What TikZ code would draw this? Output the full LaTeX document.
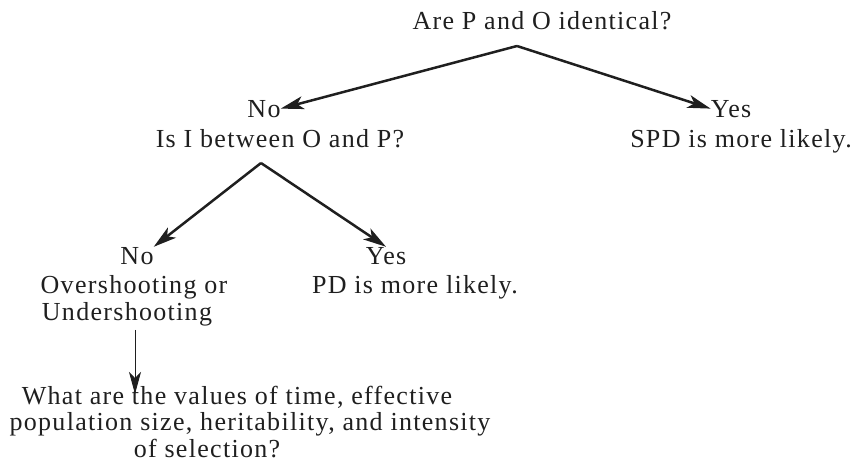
\documentclass[tikz,border=0pt]{standalone}
\usepackage{fontspec}
\setmainfont{Liberation Serif}[LetterSpace=5]
\usepackage{tikz}
\usetikzlibrary{positioning, arrows.meta, calc}

\begin{document}
\begin{tikzpicture}[
    x=1pt, y=-1pt,
    txt/.style={inner sep=0pt, anchor=base, text=black!88, font=\fontsize{26}{30}\selectfont},
    arrow/.style={-{Stealth[length=23pt, width=13pt, inset=6pt]}, line width=2.5pt, black!88},
    thinarrow/.style={-{Stealth[length=22pt, width=12pt, inset=6pt]}, line width=1pt, black!88}
]
\useasboundingbox (0,0) rectangle (861,474);

% First question
\node[txt] (title) at (542,29) {Are P and O identical?};
\coordinate (split1) at (517,46);

% Answers to the first question
\node[txt] (no1) at (264,117) {No};
\node[txt] (q2) at (280,147) {Is I between O and P?};
\node[txt] (yes1) at (731,117) {Yes};
\node[txt] (spd) at (741,147) {SPD is more likely.};
\coordinate (split2) at (261,163);

% Answers to the second question
\node[txt] (no2) at (137,264) {No};
\node[txt] (over) at (134,293) {Overshooting or};
\node[txt] (under) at (127,320) {Undershooting};
\node[txt] (yes2) at (386,264) {Yes};
\node[txt] (pd) at (415,293) {PD is more likely.};

% Last question
\node[txt] (q3) at (237,404) {What are the values of time, effective};
\node[txt] (q3b) at (250,430) {population size, heritability, and intensity};
\node[txt] (q3c) at (207,457) {of selection?};
\coordinate (drop) at (135,394);

% Connections
\draw[arrow] (split1) -- (no1.east);
\draw[arrow] (split1) -- (yes1.west);
\draw[arrow] (split2) -- (no2.north east);
\draw[arrow] (split2) -- (yes2.north);
\draw[thinarrow, shorten <=4pt] (under.south -| drop) -- (drop);

\end{tikzpicture}
\end{document}
